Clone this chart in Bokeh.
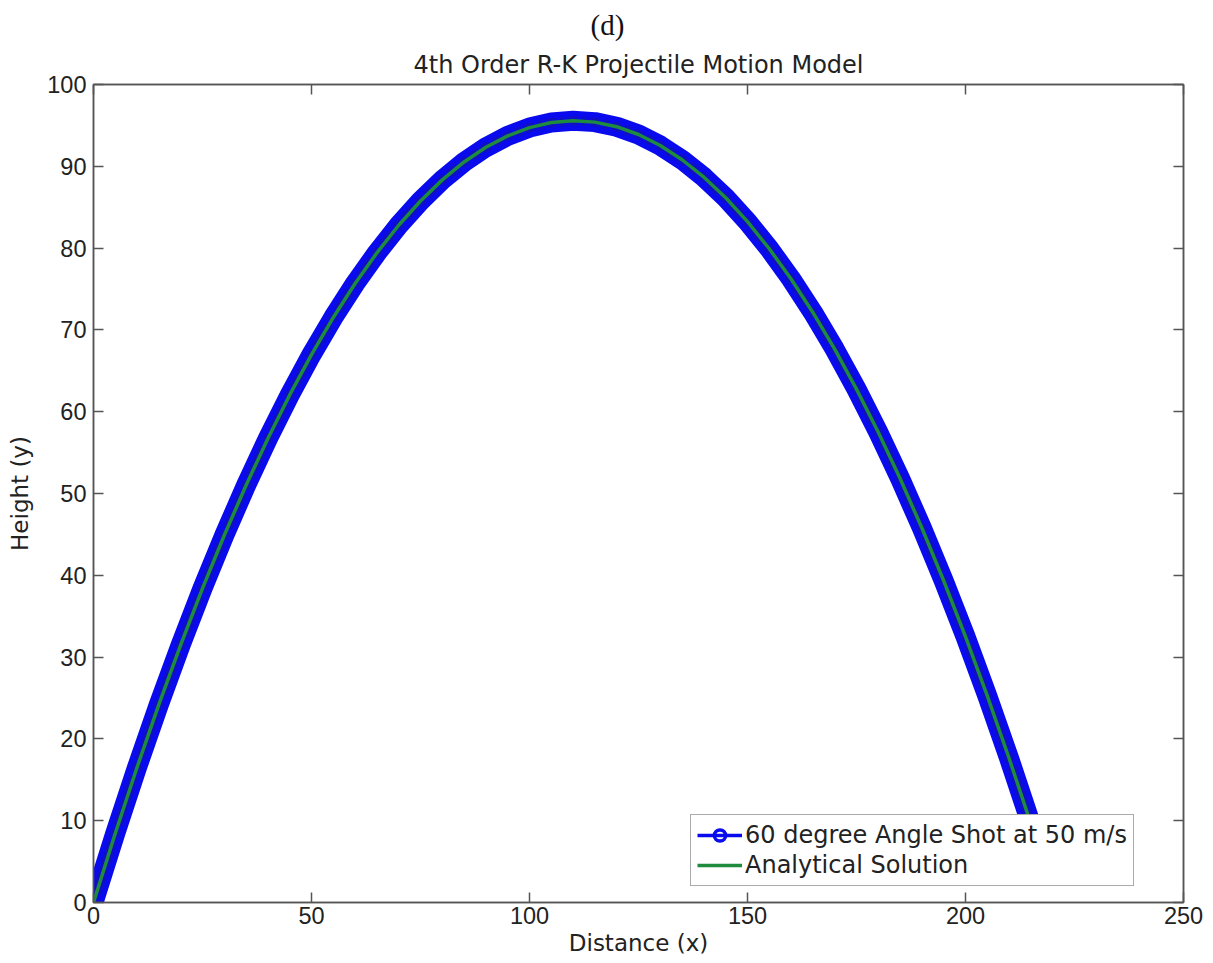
from bokeh.plotting import figure
from bokeh.models import Range1d, LinearAxis, Legend, LegendItem, ColumnDataSource, FixedTicker, Title
from bokeh.embed import file_html
from bokeh.resources import INLINE

# ---- data ----
distance = [0, 5, 10, 15, 20, 25, 30, 35, 40, 45, 50, 55, 60, 65, 70, 75, 80, 85, 90, 95,
            100, 105, 110, 115, 120, 125, 130, 135, 140, 145, 150, 155, 160, 165, 170, 175,
            180, 185, 190, 195, 200, 205, 210, 215, 217.5]
height_rk4 = [0, 8.46, 16.54, 24.22, 31.50, 38.40, 44.90, 51.01, 56.73, 62.05, 66.98, 71.52,
              75.67, 79.42, 82.79, 85.76, 88.34, 90.53, 92.32, 93.72, 94.73, 95.35, 95.57,
              95.40, 94.84, 93.89, 92.54, 90.80, 88.67, 86.15, 83.23, 79.92, 76.22, 72.13,
              67.64, 62.76, 57.49, 51.83, 45.78, 39.33, 32.49, 25.26, 17.63, 9.61, 5.47]
height_analytic = [0, 8.46, 16.54, 24.22, 31.50, 38.40, 44.90, 51.01, 56.73, 62.05, 66.98, 71.52,
                   75.67, 79.42, 82.79, 85.76, 88.34, 90.53, 92.32, 93.72, 94.73, 95.35, 95.57,
                   95.40, 94.84, 93.89, 92.54, 90.80, 88.67, 86.15, 83.23, 79.92, 76.22, 72.13,
                   67.64, 62.76, 57.49, 51.83, 45.78, 39.33, 32.49, 25.26, 17.63, 9.61, 5.47]
x_ticks = [0, 50, 100, 150, 200, 250]
y_ticks = [0, 10, 20, 30, 40, 50, 60, 70, 80, 90, 100]
series_labels = ["60 degree Angle Shot at 50 m/s", "Analytical Solution"]
title_text = "4th Order R-K Projectile Motion Model"
panel_tag = "(d)"
x_label = "Distance (x)"
y_label = "Height (y)"

BLUE = "#0a0aee"
NAVY = "#16169a"
GREEN = "#1e8c3c"
AX = "#555555"
TXT = "#222222"
SANS = "DejaVu Sans"
TICKF = "Liberation Sans"

p = figure(width=1213, height=963, output_backend="svg", toolbar_location=None,
           x_range=Range1d(0, 250), y_range=Range1d(0, 100),
           min_border_left=93, min_border_right=30, min_border_top=84, min_border_bottom=61,
           x_axis_location=None, y_axis_location=None)
p.grid.visible = False
p.outline_line_color = AX
p.outline_line_width = 1.5
p.background_fill_color = "white"
p.border_fill_color = "white"

def style_axis(ax, ticks, labels=True):
    ax.ticker = FixedTicker(ticks=ticks)
    ax.axis_line_color = AX
    ax.axis_line_width = 1.5
    ax.major_tick_line_color = AX
    ax.major_tick_line_width = 1.5
    ax.major_tick_in = 10
    ax.major_tick_out = 0
    ax.minor_tick_line_color = None
    if labels:
        ax.major_label_text_font = TICKF
        ax.major_label_text_font_size = "23.5px"
        ax.major_label_text_color = TXT
        ax.axis_label_text_font = SANS
        ax.axis_label_text_font_size = "23px"
        ax.axis_label_text_font_style = "normal"
        ax.axis_label_text_color = TXT
    else:
        ax.major_label_text_font_size = "0px"
        ax.major_label_text_color = None
        ax.major_label_standoff = 0

xb = LinearAxis(axis_label=x_label); style_axis(xb, x_ticks)
xb.major_label_standoff = 4
xb.axis_label_standoff = 3
yl = LinearAxis(axis_label=y_label); style_axis(yl, y_ticks)
yl.major_label_standoff = 7
yl.axis_label_standoff = 11
xt = LinearAxis(); style_axis(xt, x_ticks, labels=False)
yr = LinearAxis(); style_axis(yr, y_ticks, labels=False)
p.add_layout(xb, "below")
p.add_layout(yl, "left")
p.add_layout(xt, "above")
p.add_layout(yr, "right")

# titles (the later one is placed farther from the plot)
p.add_layout(Title(text=title_text, align="center", text_font=SANS, text_font_size="24px",
                   text_font_style="normal", text_color=TXT, standoff=12), "above")
p.add_layout(Title(text=panel_tag, align="left", offset=497, text_font="Liberation Serif",
                   text_font_size="29px", text_font_style="normal", text_color="#111111",
                   standoff=4), "above")

src = ColumnDataSource(dict(x=distance, y_rk=height_rk4, y_an=height_analytic))

# RK4 series: dense overlapping circle markers -> thick blue band
p.line("x", "y_rk", source=src, line_color=BLUE, line_width=20, line_cap="round", line_join="round")
p.line("x", "y_rk", source=src, line_color=NAVY, line_width=9, line_alpha=0.55, line_cap="round", line_join="round")
rk_line = p.line("x", "y_rk", source=src, line_color=BLUE, line_width=3.5)
rk_circ = p.scatter("x", "y_rk", source=src, marker="circle", size=15, line_color=BLUE,
                    line_width=3.5, fill_color=None)
# analytical solution
an_line = p.line("x", "y_an", source=src, line_color=GREEN, line_width=3.5, line_join="round")

legend = Legend(items=[LegendItem(label=series_labels[0], renderers=[rk_line, rk_circ]),
                       LegendItem(label=series_labels[1], renderers=[an_line])],
                location=(597, 16), orientation="vertical",
                label_text_font=SANS, label_text_font_size="24px", label_text_color=TXT,
                glyph_width=45, glyph_height=28, label_height=28, label_standoff=3,
                padding=6, spacing=2, margin=0,
                border_line_color=AX, border_line_width=1.5,
                background_fill_color="white", background_fill_alpha=1.0)
p.add_layout(legend)

open("out.html", "w").write(file_html(p, INLINE))
